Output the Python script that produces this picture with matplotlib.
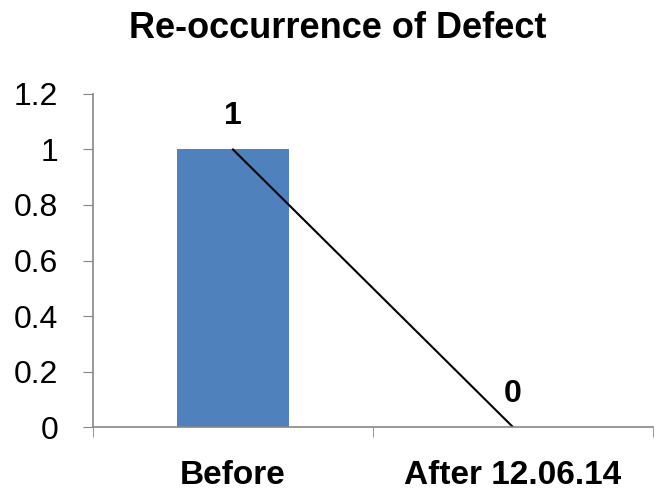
import matplotlib.pyplot as plt
import numpy as np

plt.rcParams['font.family'] = ['Liberation Sans Narrow', 'Liberation Sans', 'DejaVu Sans']

categories = ['Before', 'After 12.06.14']
values = [1, 0]
labels = ['1', '0']

fig = plt.figure(figsize=(6.66, 4.92), dpi=100)
ax = fig.add_axes([0.1396, 0.132, 0.8408, 0.677])

x = np.arange(len(categories))
ax.bar(x, values, width=0.4, color='#4f81bd')
ax.plot(x, values, color='black', lw=1.5)
for xi, v, t in zip(x, values, labels):
    ax.text(xi, v + 0.065, t, ha='center', va='bottom', fontsize=23, fontweight='bold')

ax.set_xlim(-0.5, 1.5)
ax.set_ylim(0, 1.2)
ax.set_yticks(np.arange(0, 1.21, 0.2))
ax.set_yticklabels(['0', '0.2', '0.4', '0.6', '0.8', '1', '1.2'], fontsize=23)
ax.set_xticks(x)
ax.set_xticklabels(categories, fontsize=24, fontweight='bold')
ax.set_xticks([-0.5, 0.5, 1.5], minor=True)
ax.tick_params(axis='x', which='major', length=0, pad=24)
ax.tick_params(axis='x', which='minor', length=7, color='#868686')
ax.tick_params(axis='y', length=7, color='#868686', pad=18)

for s in ['top', 'right']:
    ax.spines[s].set_visible(False)
for s in ['left', 'bottom']:
    ax.spines[s].set_color('#868686')
    ax.spines[s].set_linewidth(1.2)

fig.suptitle('Re-occurrence of Defect', x=0.507, y=0.978, fontsize=26, fontweight='bold')

fig.savefig('out.png', dpi=100)
